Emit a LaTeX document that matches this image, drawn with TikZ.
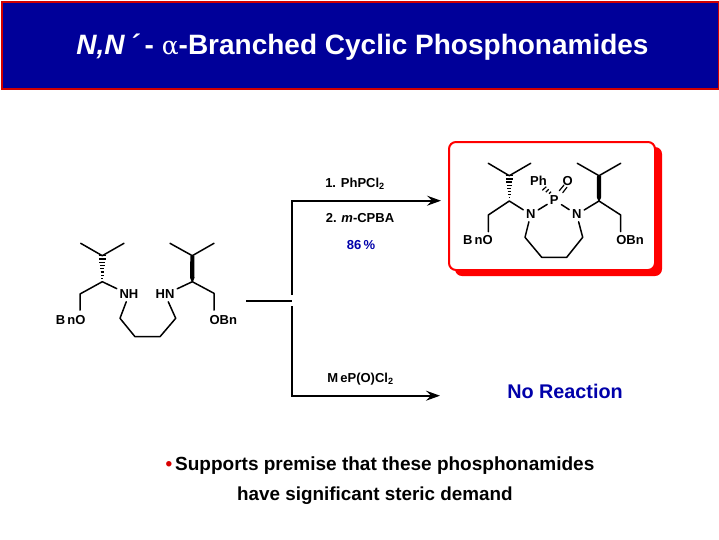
\documentclass[tikz,border=0pt]{standalone}
\usepackage{fontspec}
\setmainfont{Liberation Sans}
\usetikzlibrary{arrows.meta,calc}
\definecolor{navy}{HTML}{000099}
\definecolor{banner}{HTML}{D00000}
\definecolor{boxred}{HTML}{FF0000}
\definecolor{txtblue}{HTML}{0000AA}
\tikzset{
  x=1pt,y=-1pt,
  bond/.style={line width=1.5pt,line cap=round,line join=round,black},
  atom/.style={font=\bfseries\fontsize{13}{14}\selectfont,inner sep=2.6pt,text=black},
  lab/.style={font=\bfseries\fontsize{13}{14}\selectfont,inner sep=0pt,anchor=base,text=black},
  rxn/.style={line width=1.7pt,line join=miter,black},
  tip/.style={-{Stealth[length=14pt,width=10pt,inset=5pt]}},
  body/.style={font=\bfseries\fontsize{19}{22}\selectfont,inner sep=0pt,anchor=base west,text=black},
}
\newcommand{\hashbond}[2]{%
  \foreach \t in {0,0.125,...,0.9}{
    \draw[line width=1.3pt,black] let \n1={6.5*(1-\t)+0.8} in
      ($(#1)!\t!(#2)+(-\n1/2,0)$) -- ($(#1)!\t!(#2)+(\n1/2,0)$);}}
\newcommand{\wedgebond}[2]{%
  \fill[black] ($(#1)+(-2,0)$) -- ($(#1)+(2,0)$) -- ($(#1)!0.85!(#2)+(2.2,0)$) -- ($(#2)+(0.6,0)$) -- ($(#2)+(-0.6,0)$) -- ($(#1)!0.85!(#2)+(-2.2,0)$) -- cycle;}
\begin{document}
\begin{tikzpicture}
\path[use as bounding box,fill=white] (0,0) rectangle (719,539);
% banner
\node[draw=banner,fill=navy,line width=2.2pt,minimum width=717pt,minimum height=87pt,inner sep=0pt,anchor=north west] (banner) at (1,1) {};
\node[anchor=base,inner sep=0pt,text=white,font=\bfseries\fontsize{28}{30}\selectfont] (title) at (362.5,54)
  {\textit{N,N\,´}\,- {\fontspec{DejaVu Serif}\mdseries\fontsize{25}{30}\selectfont α}-Branched Cyclic Phosphonamides};
% product box
\fill[boxred,rounded corners=7pt] (455,147) rectangle (662,276);
\node[draw=boxred,fill=white,line width=2pt,rounded corners=7pt,minimum width=206pt,minimum height=128pt,inner sep=0pt,anchor=north west] (pbox) at (448,141) {};
% starting diamine
\coordinate (a1) at (80.7,243.3);
\coordinate (a2) at (102.3,255.7);
\coordinate (a3) at (124,243.3);
\coordinate (a4) at (102.3,281.7);
\coordinate (a5) at (80,294);
\coordinate (a5e) at (80,310);
\node[lab] (a6) at (70.7,324) {B\,nO};
\node[atom] (a7) at (129,294.5) {NH};
\coordinate (a8) at (120,318.3);
\coordinate (a9) at (135,336.7);
\coordinate (a10) at (160,336.7);
\coordinate (a11) at (175.7,318.3);
\node[atom] (a12) at (165,294.5) {HN};
\coordinate (b1) at (170,243.3);
\coordinate (b2) at (192.3,255.7);
\coordinate (b3) at (214,243.3);
\coordinate (b4) at (192.3,281.7);
\coordinate (b5) at (214,293.3);
\coordinate (b5e) at (214,310);
\node[lab] (b6) at (223.3,324) {OBn};
\draw[bond] (a1)--(a2)--(a3);
\hashbond{a2}{a4}
\draw[bond] (a5e) -- (a5) -- (a4) -- (a7);
\draw[bond] (a7) -- (a8) -- (a9) -- (a10) -- (a11) -- (a12);
\draw[bond] (a12) -- (b4) -- (b5) -- (b5e);
\draw[bond] (b1)--(b2)--(b3);
\wedgebond{b2}{b4}
% reaction arrows
\coordinate (s) at (246,300.7);
\coordinate (j) at (291.7,300.7);
\coordinate (ju) at (291.7,295);
\coordinate (jd) at (291.7,306);
\coordinate (u) at (291.7,200.7);
\coordinate (d) at (291.7,395.7);
\coordinate (ue) at (441,200.7);
\coordinate (de) at (440,395.7);
\draw[rxn] (s) -- (j);
\draw[rxn,tip] (ju) -- (u) -- (ue);
\draw[rxn,tip] (jd) -- (d) -- (de);
\node[lab] (r1) at (355,187.5) {1. PhPCl\textsubscript{2}};
\node[lab] (r2) at (360,222.5) {2. \textit{m}-CPBA};
\node[lab,text=txtblue] (r3) at (361,249.5) {86\,\%};
\node[lab] (r4) at (360.5,382.5) {M\,eP(O)Cl\textsubscript{2}};
\node[anchor=base,inner sep=0pt,text=txtblue,font=\bfseries\fontsize{19.8}{22}\selectfont] (nr) at (565,398.5) {No Reaction};
% product
\coordinate (c1) at (488.3,163.3);
\coordinate (c2) at (509.3,175.7);
\coordinate (c3) at (530.7,163.3);
\coordinate (c4) at (509.3,201);
\coordinate (c5) at (488.3,215);
\coordinate (c5e) at (488.3,231.7);
\node[lab] (c6) at (478,244.5) {B\,nO};
\node[atom] (n1) at (530.7,214.5) {N};
\node[atom] (pp) at (554.3,200) {P};
\node[atom] (n2) at (576.7,214.5) {N};
\node[lab] (ph) at (538.5,185) {Ph};
\node[lab] (ox) at (567.7,185) {O};
\coordinate (r5) at (525,237.3);
\coordinate (r6) at (541.7,257.3);
\coordinate (r7) at (566.7,257.3);
\coordinate (r8) at (582.7,237.3);
\coordinate (d1) at (577.3,163.3);
\coordinate (d2) at (599,175.7);
\coordinate (d3) at (620.7,163.3);
\coordinate (d4) at (599,201);
\coordinate (d5) at (620.7,215);
\coordinate (d5e) at (620.7,231.7);
\node[lab] (d6) at (630,244.5) {OBn};
\draw[bond] (c1)--(c2)--(c3);
\hashbond{c2}{c4}
\draw[bond] (c5e) -- (c5) -- (c4) -- (n1);
\draw[bond] (n1) -- (pp) -- (n2) -- (d4) -- (d5) -- (d5e);
\draw[bond] (n1) -- (r5) -- (r6) -- (r7) -- (r8) -- (n2);
\draw[bond] (d1)--(d2)--(d3);
\wedgebond{d2}{d4}
% P=O
\draw[bond,line width=1.2pt] (559.3,190.7) -- (564,185);
\draw[bond,line width=1.2pt] (562.7,192.7) -- (566.9,187.3);
% P-Ph hash
\draw[line width=1.2pt,black] (550,192.7)++(-1,1)--++(2,-2);
\draw[line width=1.2pt,black] (547.3,190.7)++(-1.5,1.4)--++(3,-2.8);
\draw[line width=1.2pt,black] (544.3,188.5)++(-2,1.8)--++(4,-3.6);
% bottom text
\node[body,text=boxred!85!black] (bul) at (165.5,470) {•};
\node[body] (l1) at (175,470) {Supports premise that these phosphonamides};
\node[body,font=\bfseries\fontsize{18.85}{22}\selectfont] (l2) at (237,500) {have significant steric demand};
\end{tikzpicture}
\end{document}
